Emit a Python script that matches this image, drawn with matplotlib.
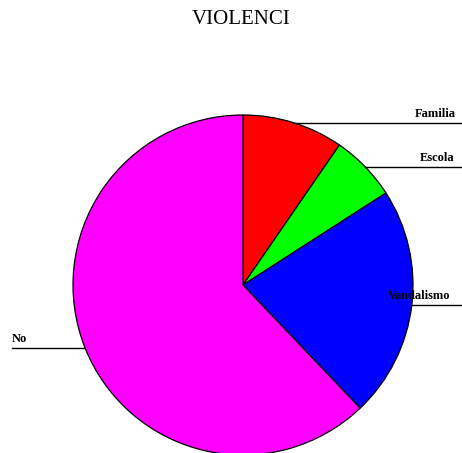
import numpy as np
import matplotlib
matplotlib.use("Agg")
import matplotlib.pyplot as plt

title = "VIOLENCI"
labels = ["Familia", "Escola", "Vandalismo", "No"]
values = [9.6, 6.3, 22.0, 62.1]
colors = ["#ff0000", "#00ff00", "#0000ff", "#ff00ff"]

W, H = 462, 453
fig = plt.figure(figsize=(W / 100, H / 100), dpi=100)
cx, cy, r = 243, 285, 170
ax = fig.add_axes([(cx - r) / W, (H - cy - r) / H, 2 * r / W, 2 * r / H])

wedges, _ = ax.pie(values, colors=colors, startangle=90, counterclock=False,
                   radius=1, center=(0, 0), frame=False,
                   wedgeprops=dict(edgecolor="black", linewidth=0.9))
for w in wedges:
    w.set_clip_on(False)
ax.set_xlim(-1, 1)
ax.set_ylim(-1, 1)
ax.axis("off")

fam = "Liberation Serif"
label_left = [415, 420, 388, 12]
total = sum(values)
start = 90.0
for lab, v, tx in zip(labels, values, label_left):
    span = 360.0 * v / total
    mid = np.deg2rad(start - span / 2)
    start -= span
    x0, y0 = np.cos(mid), np.sin(mid)
    px = cx + r * x0
    py = cy - r * y0
    x1 = W if x0 >= 0 else 12
    fig.add_artist(plt.Line2D([px / W, x1 / W], [(H - py) / H, (H - py) / H],
                              color="black", linewidth=1.0))
    fig.text(tx / W, (H - py + 3) / H, lab, ha="left", va="bottom",
             fontsize=9, family=fam, fontweight="bold")

fig.text(241 / W, (H - 20) / H, title, ha="center", va="center",
         fontsize=15, family=fam)

fig.savefig("out.png", dpi=100, facecolor="white")
